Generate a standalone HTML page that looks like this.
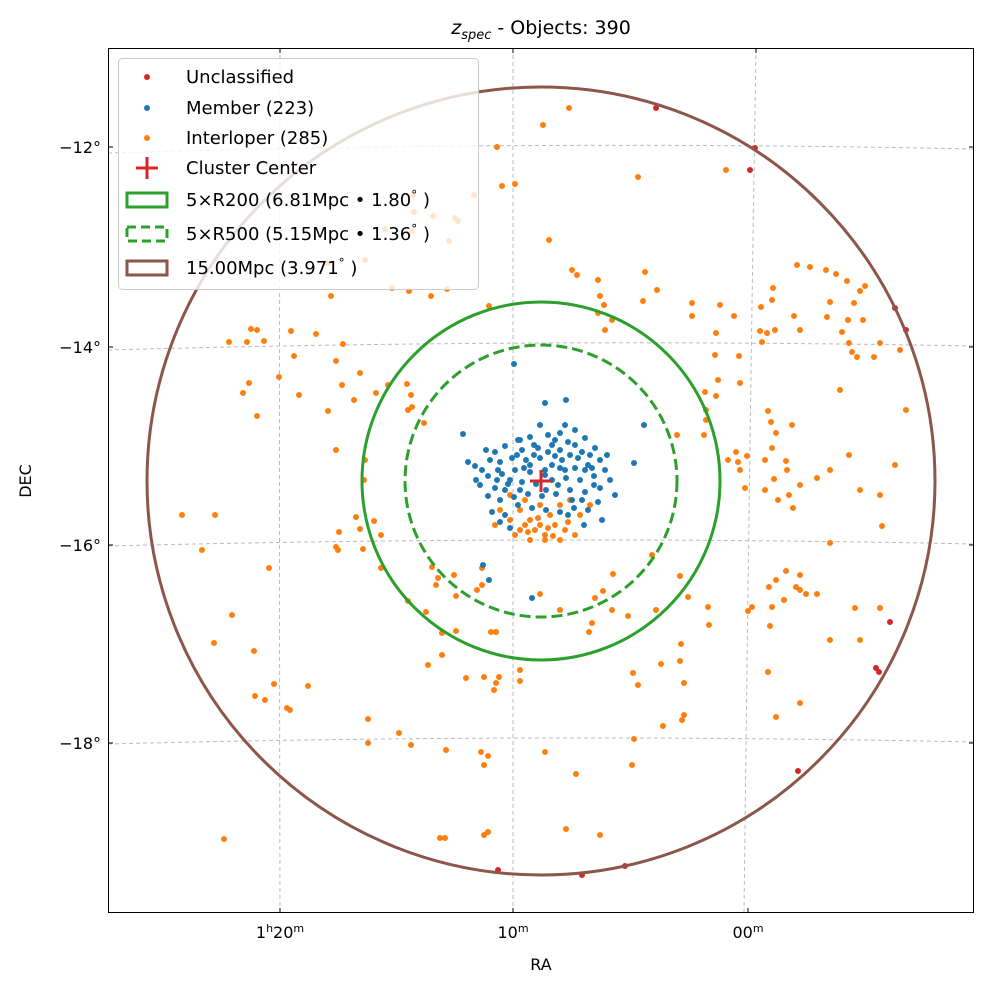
<!DOCTYPE html>
<html><head><style>
body{margin:0;background:#fff;}
svg text{font-family:"DejaVu Sans","Liberation Sans",sans-serif;fill:#000;}
</style></head><body>
<svg width="989" height="989" xmlns="http://www.w3.org/2000/svg">
<rect width="989" height="989" fill="#fff"/>
<g stroke="#bbb" stroke-width="1" stroke-dasharray="4,3" fill="none">
<path d="M280,48 Q279,480 280,913"/>
<path d="M513,48 L513,913"/>
<path d="M756,48 Q749,480 744,913"/>
<path d="M108,153 Q541,140 974,149"/>
<path d="M108,350 Q541,338 974,346"/>
<path d="M108,546 Q541,535 974,544"/>
<path d="M108,744 Q541,733 974,742"/>
</g>
<path fill="none" stroke="#ff7f0e" stroke-width="6" stroke-linecap="round" d="
M569,108h0M543,125h0M497,147h0M515,184h0M638,177h0M726,170h0M413,195h0M458,221h0M414,212h0M549,240h0M572,270h0M577,275h0M598,280h0M600,296h0M604,305h0M598,313h0M612,320h0M605,330h0M645,272h0M657,290h0M692,303h0M692,316h0M643,301h0M489,306h0M331,296h0M392,288h0M409,291h0M431,296h0M447,289h0M449,241h0M433,216h0M455,218h0M502,186h0M474,195h0M412,231h0M385,229h0M365,260h0M328,263h0
M247,342h0M251,329h0M257,330h0M229,342h0M264,341h0M291,331h0M316,334h0M343,344h0M294,356h0M279,377h0M299,395h0M249,383h0M243,393h0M257,416h0M215,515h0M269,568h0M182,515h0M336,361h0M360,373h0M342,385h0M388,385h0M376,393h0M407,384h0M411,395h0M412,407h0M424,423h0M408,410h0M354,400h0M328,411h0M336,450h0M365,460h0M364,480h0M356,517h0M360,529h0M374,521h0M381,535h0M339,532h0M336,547h0M338,550h0M363,549h0M381,568h0M432,567h0M438,578h0M454,575h0M456,596h0M482,568h0M408,601h0M426,612h0M442,633h0M456,631h0M491,632h0M496,632h0M482,585h0M436,585h0
M202,550h0M254,651h0M265,700h0M274,684h0M224,839h0M255,696h0M214,643h0M232,615h0M287,708h0M308,686h0M290,710h0M368,719h0M442,655h0M428,665h0M466,678h0M484,677h0M496,683h0M494,690h0M499,677h0M520,681h0M446,750h0M481,752h0M488,756h0M484,765h0M545,752h0M576,774h0M566,829h0M600,835h0M632,765h0M634,739h0M663,726h0M684,715h0M682,720h0M661,664h0M633,673h0M638,685h0M680,661h0M684,683h0M708,607h0M709,625h0M681,644h0M688,597h0M656,610h0M628,616h0M680,576h0M652,555h0M613,574h0M603,591h0M595,598h0M589,632h0M592,623h0M612,610h0M540,594h0M560,610h0M477,590h0M520,670h0M440,838h0M445,838h0M488,832h0M484,835h0M411,745h0M399,733h0M368,743h0
M720,305h0M716,333h0M734,316h0M760,331h0M767,333h0M762,342h0M794,316h0M773,288h0M797,265h0M810,267h0M826,270h0M836,274h0M847,281h0M860,291h0M865,286h0M830,302h0M854,303h0M827,317h0M848,320h0M849,343h0M852,352h0M842,332h0M857,357h0M874,357h0M863,320h0M880,343h0M761,307h0M772,300h0M739,356h0M715,355h0M718,380h0M705,392h0M716,396h0M706,410h0M706,420h0M704,435h0M677,435h0M736,452h0M738,462h0M740,470h0M728,460h0M747,456h0M745,488h0M765,460h0M786,461h0M772,448h0M787,470h0M774,479h0M789,495h0M793,508h0M765,490h0M778,500h0M800,485h0M817,478h0M849,455h0M860,490h0M880,495h0M882,526h0M830,543h0M786,571h0M776,580h0M796,587h0M800,590h0M806,594h0M817,594h0M784,600h0M772,607h0M752,607h0M748,611h0M769,587h0M800,575h0M770,626h0M768,672h0M776,717h0M800,703h0M830,470h0M771,422h0M776,433h0M768,411h0M792,425h0M740,383h0M775,330h0M800,330h0M900,350h0M906,410h0M880,608h0M855,608h0M860,640h0M830,640h0M895,465h0M840,390h0
M510,520h0M525,525h0M535,530h0M545,535h0M530,520h0M540,525h0M520,530h0M555,525h0M565,530h0M575,535h0M530,540h0M545,540h0M560,540h0M515,535h0M500,510h0M580,515h0M590,505h0M570,500h0M510,495h0M495,525h0M550,515h0M560,505h0M540,505h0M520,510h0M525,500h0M538,518h0M548,528h0M528,532h0M568,522h0M553,536h0"/>
<path fill="none" stroke="#1f77b4" stroke-width="6" stroke-linecap="round" d="
M514,364h0M545,403h0M566,400h0M644,425h0M634,463h0M615,495h0M463,434h0M483,565h0M489,580h0M532,598h0
M520,440h0M530,437h0M548,435h0M560,433h0M575,430h0M585,438h0M568,442h0M552,445h0M538,448h0M522,450h0M505,446h0M495,452h0M490,460h0M500,462h0M512,458h0M526,460h0M540,458h0M555,456h0M570,455h0M582,452h0M595,448h0M600,460h0M588,465h0M575,468h0M560,468h0M545,470h0M530,472h0M515,470h0M502,474h0M488,476h0M475,466h0M468,462h0M480,485h0M495,488h0M508,484h0M522,482h0M536,484h0M552,480h0M566,478h0M580,480h0M594,476h0M605,470h0M600,488h0M585,492h0M570,490h0M556,494h0M542,496h0M528,494h0M514,497h0M500,500h0M488,496h0M492,512h0M505,515h0M518,505h0M532,508h0M546,510h0M560,512h0M574,508h0M588,510h0M598,502h0M602,520h0M584,525h0M500,522h0M510,528h0M518,440h0M534,455h0M562,460h0M578,458h0M592,468h0M548,452h0M524,468h0M510,480h0M558,485h0M572,500h0M590,455h0M565,425h0M540,425h0M530,465h0M545,475h0M575,445h0M585,470h0M560,450h0M498,470h0M482,470h0M594,485h0M546,490h0M534,445h0M505,490h0M568,515h0M520,490h0M582,500h0M555,440h0M497,480h0M610,480h0M607,455h0M476,480h0M486,450h0M517,455h0M552,465h0M565,470h0"/>
<path fill="none" stroke="#d62728" stroke-width="6" stroke-linecap="round" d="M656,108h0M755,148h0M750,170h0M895,308h0M906,330h0M890,622h0M876,668h0M879,672h0M798,771h0M498,870h0M582,875h0M625,866h0"/>
<circle cx="541" cy="481" r="394" fill="none" stroke="#8c564b" stroke-width="3"/>
<circle cx="541" cy="481" r="179" fill="none" stroke="#2ca02c" stroke-width="3"/>
<circle cx="541" cy="481" r="136" fill="none" stroke="#2ca02c" stroke-width="3" stroke-dasharray="11,5"/>
<path d="M541,470v22M530,481h22" stroke="#d62728" stroke-width="3"/>
<rect x="108.5" y="48.5" width="865" height="864" fill="none" stroke="#000" stroke-width="1"/>
<g stroke="#000" stroke-width="1">
<path d="M280,913v-5M513,913v-5M748,913v-5M280,48v5M513,48v5M756,48v5"/>
<path d="M108,147h5M108,347h5M108,545h5M108,743h5M974,147h-5M974,347h-5M974,545h-5M974,743h-5"/>
</g>
<g font-size="16" text-anchor="end">
<text x="101" y="153">−12°</text><text x="101" y="353">−14°</text>
<text x="101" y="551">−16°</text><text x="101" y="749">−18°</text>
</g>
<g font-size="16" text-anchor="middle">
<text x="280" y="938">1<tspan font-size="11" dy="-6">h</tspan><tspan dy="6">20</tspan><tspan font-size="11" dy="-6">m</tspan></text>
<text x="513" y="938">10<tspan font-size="11" dy="-6">m</tspan></text>
<text x="748" y="938">00<tspan font-size="11" dy="-6">m</tspan></text>
<text x="541" y="970">RA</text>
<text x="541" y="34" font-size="19"><tspan font-style="italic">z</tspan><tspan font-style="italic" font-size="13" dy="5">spec</tspan><tspan dy="-5"> - Objects: 390</tspan></text>
</g>
<text transform="translate(31,481) rotate(-90)" font-size="16" text-anchor="middle">DEC</text>
<g>
<rect x="118.5" y="58.5" width="360" height="231" rx="4" fill="#fff" fill-opacity="0.8" stroke="#ccc"/>
<circle cx="147" cy="77" r="3" fill="#d62728"/>
<circle cx="147" cy="108" r="3" fill="#1f77b4"/>
<circle cx="147" cy="138" r="3" fill="#ff7f0e"/>
<path d="M147,157v22M136,168h22" stroke="#d62728" stroke-width="3"/>
<rect x="127" y="193" width="40" height="14" fill="none" stroke="#2ca02c" stroke-width="3"/>
<rect x="127" y="227" width="40" height="14" fill="none" stroke="#2ca02c" stroke-width="3" stroke-dasharray="9,5"/>
<rect x="127" y="261" width="40" height="14" fill="none" stroke="#8c564b" stroke-width="3"/>
<g font-size="18">
<text x="186" y="83">Unclassified</text>
<text x="186" y="114">Member (223)</text>
<text x="186" y="144">Interloper (285)</text>
<text x="186" y="174">Cluster Center</text>
<text x="186" y="206">5×R200 (6.81Mpc • 1.80<tspan font-size="12" dy="-7">°</tspan><tspan dy="7"> )</tspan></text>
<text x="186" y="240">5×R500 (5.15Mpc • 1.36<tspan font-size="12" dy="-7">°</tspan><tspan dy="7"> )</tspan></text>
<text x="186" y="274">15.00Mpc (3.971<tspan font-size="12" dy="-7">°</tspan><tspan dy="7"> )</tspan></text>
</g>
</g>
</svg>
</body></html>
